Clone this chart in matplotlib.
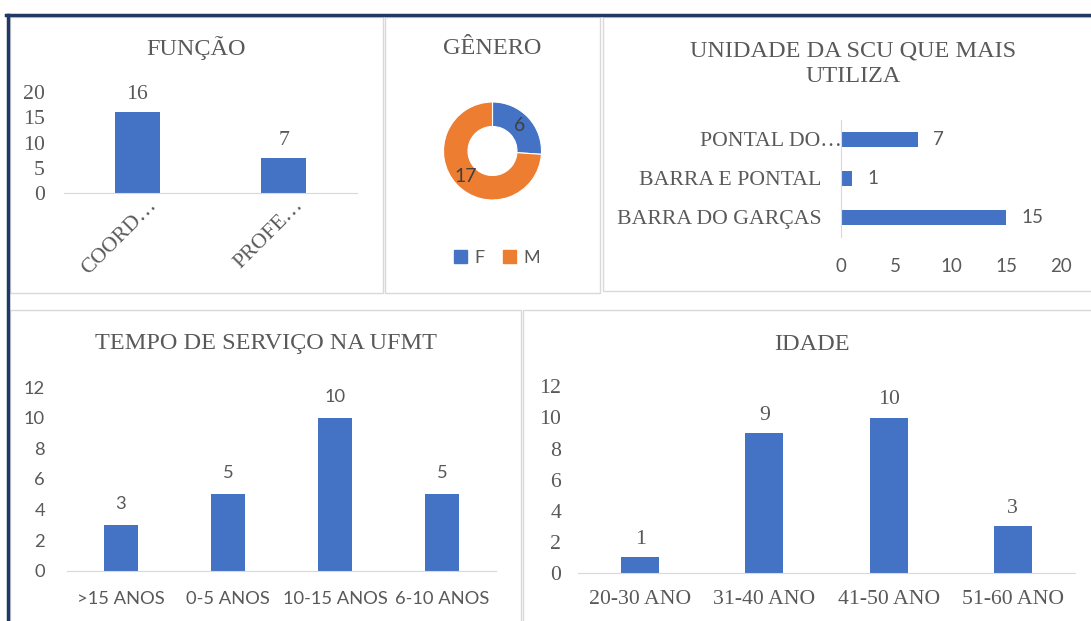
import matplotlib.pyplot as plt
from matplotlib.patches import Rectangle, Patch
from matplotlib.lines import Line2D
from matplotlib.transforms import ScaledTranslation

# data
funcao_cats = ['COORD…', 'PROFE…']
funcao_vals = [16, 7]
genero_cats = ['F', 'M']
genero_vals = [6, 17]
unidade_cats = ['BARRA DO GARÇAS', 'BARRA E PONTAL', 'PONTAL DO…']
unidade_vals = [15, 1, 7]
tempo_cats = ['>15 ANOS', '0-5 ANOS', '10-15 ANOS', '6-10 ANOS']
tempo_vals = [3, 5, 10, 5]
idade_cats = ['20-30 ANO', '31-40 ANO', '41-50 ANO', '51-60 ANO']
idade_vals = [1, 9, 10, 3]

BLUE = '#4472C4'
ORANGE = '#ED7D31'
TXT = '#595959'
GRID = '#D9D9D9'
NAVY = '#203864'
SERIF = 'Liberation Serif'
SANS = 'Lato'

W, H = 1091, 621
fig = plt.figure(figsize=(W / 100, H / 100), dpi=100)


def px_axes(x0, y0, x1, y1):
    return fig.add_axes([x0 / W, 1 - y1 / H, (x1 - x0) / W, (y1 - y0) / H])


def panel(x0, y0, x1, y1):
    fig.patches.append(Rectangle((x0 / W, 1 - y1 / H), (x1 - x0) / W, (y1 - y0) / H,
                                 transform=fig.transFigure, fill=False, ec=GRID, lw=1))


def title(x, y, s):
    fig.text(x / W, 1 - y / H, s, ha='center', va='center', fontsize=17.5,
             family=SERIF, color=TXT, linespacing=1.3)


def clean(ax, left=False, bottom=True):
    for s in ['top', 'right', 'left', 'bottom']:
        ax.spines[s].set_visible(False)
    if bottom:
        ax.spines['bottom'].set_visible(True)
        ax.spines['bottom'].set_color(GRID)
    if left:
        ax.spines['left'].set_visible(True)
        ax.spines['left'].set_color(GRID)
    ax.tick_params(length=0, colors=TXT)
    ax.set_facecolor('none')


def columns(ax, cats, vals, ymax, ystep, width, font, size, ypad, xpad, off):
    x = list(range(len(cats)))
    ax.bar(x, vals, width=width, color=BLUE)
    ax.set_xlim(-0.5, len(cats) - 0.5)
    ax.set_ylim(0, ymax)
    ax.set_yticks(range(0, ymax + 1, ystep))
    ax.set_xticks(x, cats)
    clean(ax)
    ax.tick_params(labelsize=size, labelfontfamily=font)
    ax.tick_params(axis='y', pad=ypad)
    ax.tick_params(axis='x', pad=xpad)
    for xi, v in zip(x, vals):
        ax.annotate(str(v), (xi, v), xytext=(0, off), textcoords='offset points',
                    ha='center', va='baseline', family=font, fontsize=size, color=TXT)


# frame
fig.add_artist(Line2D([6 / W, 1], [1 - 15 / H] * 2, color=NAVY, lw=2.5))
fig.add_artist(Line2D([8 / W] * 2, [0, 1 - 15 / H], color=NAVY, lw=2.5))
panel(10, 17, 383, 293)
panel(385, 17, 600, 293)
panel(603, 17, 1095, 291)
panel(10, 310, 521, 630)
panel(523, 310, 1095, 630)

# FUNÇÃO
title(196, 48, 'FUNÇÃO')
ax1 = px_axes(64, 92.1, 357, 193.3)
columns(ax1, funcao_cats, funcao_vals, 20, 5, 0.31, SERIF, 15.7, 13.7, 9, 9.5)
for lbl in ax1.get_xticklabels():
    lbl.set_rotation(45)
    lbl.set_rotation_mode('anchor')
    lbl.set_ha('right')
    lbl.set_va('baseline')
    lbl.set_transform(lbl.get_transform() + ScaledTranslation(0.2, 0, fig.dpi_scale_trans))

# GÊNERO
title(492, 48, 'GÊNERO')
ax2 = px_axes(443.5, 102, 541.5, 200)
total = sum(genero_vals)
ax2.pie(genero_vals, colors=[BLUE, ORANGE], startangle=90, counterclock=False,
        wedgeprops=dict(width=0.5, edgecolor='white', linewidth=0.8),
        autopct=lambda p: f'{round(p * total / 100)}', pctdistance=0.75,
        textprops=dict(family=SANS, fontsize=14, color='#404040'))
ax2.set_xlim(-1, 1)
ax2.set_ylim(-1, 1)
ax2.legend(handles=[Patch(color=BLUE, label=genero_cats[0]),
                    Patch(color=ORANGE, label=genero_cats[1])],
           loc='center', bbox_to_anchor=(497 / W, 1 - 257.5 / H), bbox_transform=fig.transFigure,
           ncol=2, frameon=False, handlelength=0.75, handleheight=0.75, handletextpad=0.4,
           columnspacing=1.0, prop={'family': SANS, 'size': 13}, labelcolor=TXT)

# UNIDADE
title(853, 64, 'UNIDADE DA SCU QUE MAIS\nUTILIZA')
ax3 = px_axes(840.7, 120, 1061.3, 237)
y = list(range(len(unidade_cats)))
ax3.barh(y, unidade_vals, height=0.36, color=BLUE)
ax3.set_xlim(0, 20)
ax3.set_ylim(-0.5, len(unidade_cats) - 0.5)
ax3.set_xticks(range(0, 21, 5))
ax3.set_yticks(y, unidade_cats)
clean(ax3, left=True, bottom=False)
ax3.tick_params(axis='x', labelsize=13.5, labelfontfamily=SANS, pad=14.8)
ax3.tick_params(axis='y', labelsize=15.7, labelfontfamily=SERIF, pad=13.7)
ax3.get_yticklabels()[2].set_transform(
    ax3.get_yticklabels()[2].get_transform() + ScaledTranslation(0.2, 0, fig.dpi_scale_trans))
for yi, v in zip(y, unidade_vals):
    ax3.annotate(str(v), (v, yi), xytext=(11, 0), textcoords='offset points',
                 ha='left', va='center', family=SANS, fontsize=13.5, color=TXT)

# TEMPO DE SERVIÇO
title(266, 344, 'TEMPO DE SERVIÇO NA UFMT')
ax4 = px_axes(67, 387, 496, 570.7)
columns(ax4, tempo_cats, tempo_vals, 12, 2, 0.317, SANS, 13.2, 15.8, 14.5, 11.5)

# IDADE
title(812, 344, 'IDADE')
ax5 = px_axes(578, 386.4, 1075, 573)
columns(ax5, idade_cats, idade_vals, 12, 2, 0.306, SERIF, 15.7, 12, 12.5, 9.5)

fig.savefig('out.png', dpi=100)
